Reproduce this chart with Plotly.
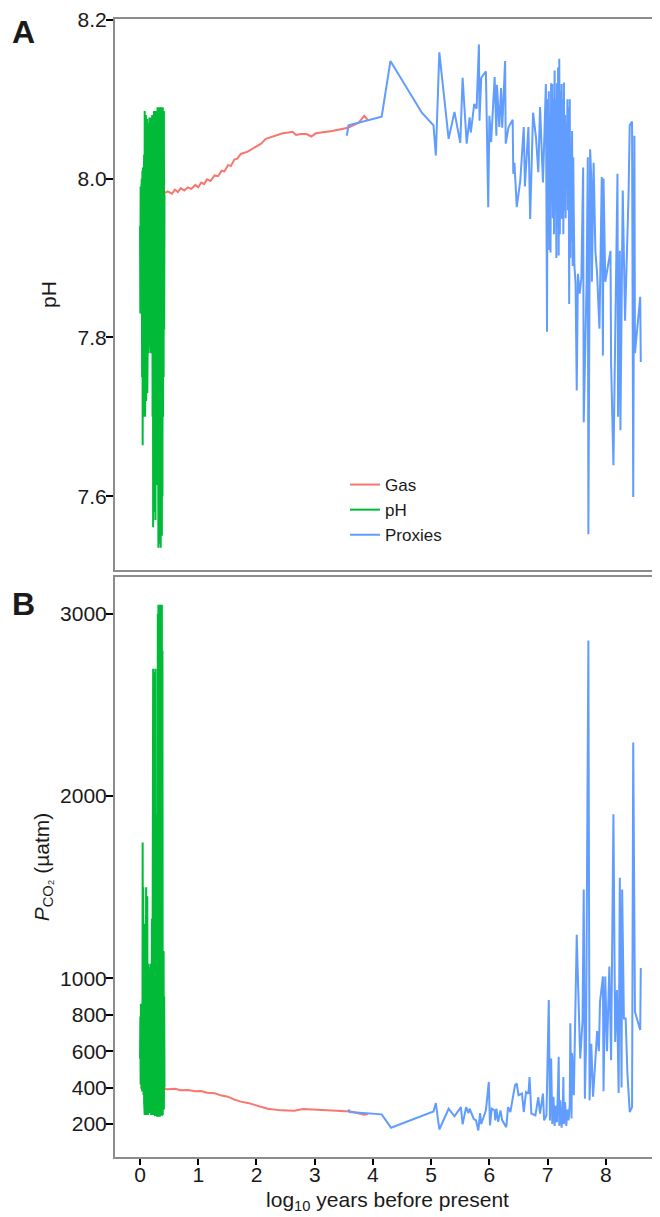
import plotly.graph_objects as go

# ---------------- data ----------------
# Gas (red)
gas_ph_x = [0.00, 0.10, 0.20, 0.30, 0.40, 0.475, 0.55, 0.60, 0.65, 0.70, 0.76, 0.82, 0.88, 0.95, 1.00,
            1.05, 1.10, 1.15, 1.21, 1.28, 1.34, 1.40, 1.45, 1.51, 1.56, 1.62, 1.67, 1.73, 1.85, 1.96, 2.08,
            2.16, 2.31, 2.45, 2.55, 2.62, 2.68, 2.76, 2.86, 2.94, 3.02, 3.30, 3.57, 3.75, 3.85, 3.91]
gas_ph = [7.979, 7.980, 7.978, 7.982, 7.981, 7.984, 7.981, 7.986, 7.983, 7.988, 7.985, 7.989, 7.987, 7.992,
          7.989, 7.995, 7.993, 7.999, 7.997, 8.004, 8.003, 8.010, 8.009, 8.017, 8.016, 8.024, 8.025, 8.031,
          8.034, 8.039, 8.044, 8.050, 8.054, 8.057, 8.058, 8.059, 8.055, 8.056, 8.056, 8.053, 8.057, 8.060,
          8.064, 8.070, 8.079, 8.074]
gas_co2_x = [0.00, 0.20, 0.475, 0.60, 0.70, 0.82, 0.95, 1.05, 1.15, 1.28, 1.40, 1.51, 1.62, 1.73, 1.85,
             1.96, 2.08, 2.19, 2.42, 2.65, 2.80, 2.94, 3.34, 3.62, 3.85, 3.91]
gas_co2 = [400, 398, 391, 394, 386, 387, 380, 381, 372, 369, 356, 350, 334, 323, 316, 306, 297, 284, 275,
           273, 282, 280, 275, 269, 251, 255]

# pH measurements (green)
ph_x = [0.000, 0.005, 0.010, 0.015, 0.020, 0.025, 0.030, 0.035, 0.040, 0.045, 0.050, 0.055, 0.060, 0.065,
        0.070, 0.075, 0.080, 0.085, 0.090, 0.095, 0.100, 0.105, 0.110, 0.115, 0.120, 0.125, 0.130, 0.135,
        0.140, 0.145, 0.150, 0.155, 0.160, 0.165, 0.170, 0.175, 0.180, 0.185, 0.190, 0.195, 0.200, 0.205,
        0.210, 0.215, 0.220, 0.225, 0.230, 0.235, 0.240, 0.245, 0.250, 0.255, 0.260, 0.265, 0.270, 0.275,
        0.280, 0.285, 0.290, 0.295, 0.300, 0.305, 0.310, 0.315, 0.320, 0.325, 0.330, 0.335, 0.340, 0.345,
        0.350, 0.355, 0.360, 0.365, 0.370, 0.375, 0.380, 0.385, 0.390, 0.395, 0.400, 0.405, 0.410, 0.415,
        0.420]
ph_ph = [7.94, 7.83, 7.99, 7.84, 7.98, 7.79, 8.00, 7.75, 8.01, 7.664, 8.014, 7.70, 7.95, 7.80,
         8.03, 7.72, 8.085, 7.70, 8.06, 7.75, 8.08, 7.72, 8.07, 7.80, 8.075, 7.73, 8.06, 7.82,
         8.07, 7.78, 8.05, 7.80, 8.077, 7.79, 8.06, 7.83, 8.07, 7.78, 8.077, 7.82, 8.07, 7.76,
         8.08, 7.70, 8.075, 7.561, 8.08, 7.62, 8.085, 7.58, 8.08, 7.66, 8.08, 7.57, 8.085, 7.64,
         8.08, 7.70, 8.085, 7.614, 8.09, 7.55, 8.085, 7.535, 8.09, 7.60, 8.085, 7.54, 8.09, 7.57,
         8.085, 7.535, 8.09, 7.62, 8.09, 7.55, 8.085, 7.60, 8.09, 7.70, 8.08, 7.75, 8.085, 7.81,
         7.98]
ph_co2 = [560, 790, 420, 860, 410, 700, 400, 1100, 380, 1745, 420, 1500, 360, 1000,
          320, 1200, 250, 1300, 260, 1000, 270, 1500, 250, 1100, 260, 1450, 280, 800,
          250, 1080, 280, 900, 260, 1060, 300, 1000, 270, 1080, 250, 950, 260, 1327,
          250, 1500, 270, 2700, 260, 2680, 250, 2600, 255, 2000, 245, 2700, 250, 1900,
          245, 1500, 250, 2200, 240, 3000, 250, 3050, 240, 2900, 245, 3050, 240, 3040,
          250, 3050, 245, 2500, 250, 3050, 245, 2800, 250, 1150, 260, 1150, 280, 900,
          400]

# Proxies (blue)
prox_ph_x = [3.55, 3.58, 4.15, 4.30, 4.84, 5.04, 5.08, 5.14, 5.30, 5.40, 5.50, 5.54, 5.61, 5.66, 5.68,
             5.74, 5.78, 5.82, 5.83, 5.86, 5.94, 5.96, 5.98, 6.00, 6.03, 6.09, 6.12, 6.13, 6.17, 6.20,
             6.22, 6.27, 6.28, 6.33, 6.40, 6.41, 6.43, 6.47, 6.53, 6.59, 6.61, 6.67, 6.70, 6.75, 6.80,
             6.84, 6.87, 6.92, 6.97, 6.99, 7.00, 7.01, 7.02, 7.03, 7.04, 7.05, 7.06, 7.07, 7.08, 7.09,
             7.10, 7.11, 7.12, 7.13, 7.14, 7.15, 7.16, 7.17, 7.18, 7.19, 7.20, 7.21, 7.22, 7.23, 7.24,
             7.25, 7.26, 7.27, 7.28, 7.29, 7.30, 7.31, 7.32, 7.33, 7.34, 7.35, 7.36, 7.37, 7.38, 7.39,
             7.40, 7.41, 7.42, 7.43, 7.44, 7.45, 7.46, 7.48, 7.50, 7.52, 7.55, 7.58, 7.61, 7.62, 7.67,
             7.69, 7.70, 7.73, 7.75, 7.76, 7.79, 7.82, 7.85, 7.89, 7.93, 7.95, 7.96, 7.99, 8.08, 8.09,
             8.13, 8.17, 8.20, 8.21, 8.24, 8.25, 8.29, 8.33, 8.39, 8.41, 8.45, 8.47, 8.49, 8.50, 8.59,
             8.60]
prox_ph = [8.054, 8.067, 8.078, 8.148, 8.083, 8.067, 8.029, 8.159, 8.050, 8.084, 8.045, 8.127, 8.044, 8.077, 8.058,
           8.094, 8.088, 8.169, 8.073, 8.127, 8.135, 8.058, 7.964, 8.079, 8.046, 8.128, 8.054, 8.118, 8.065, 8.114,
           8.064, 8.148, 8.044, 8.065, 8.074, 8.006, 8.020, 7.964, 7.997, 8.065, 7.990, 8.065, 7.949, 8.083, 8.052,
           8.008, 8.090, 7.995, 8.119, 7.807, 8.100, 7.950, 8.110, 7.910, 8.080, 7.907, 8.120, 7.970, 8.119, 7.950,
           8.100, 7.930, 8.136, 7.960, 8.100, 7.900, 8.120, 7.940, 8.140, 7.903, 8.151, 7.930, 8.110, 7.950, 8.119,
           7.949, 8.100, 7.930, 8.121, 7.960, 8.080, 7.950, 8.070, 8.000, 8.100, 7.960, 8.090, 7.842, 8.100, 7.900,
           8.040, 7.920, 8.060, 7.890, 8.027, 7.950, 7.890, 7.868, 7.733, 7.880, 7.855, 7.875, 8.014, 7.693, 7.870,
           8.027, 7.552, 8.037, 8.000, 7.870, 8.020, 7.909, 7.880, 7.811, 8.002, 7.777, 8.000, 7.870, 7.909, 7.768,
           7.639, 7.850, 8.006, 7.700, 7.909, 7.683, 7.985, 7.821, 7.980, 8.067, 8.072, 7.599, 8.054, 7.780, 7.851,
           7.769]

prox_co2_x = [3.58, 3.60, 4.15, 4.31, 5.04, 5.08, 5.14, 5.30, 5.40, 5.51, 5.54, 5.60, 5.64, 5.66, 5.73,
              5.77, 5.81, 5.84, 5.86, 5.94, 5.99, 6.01, 6.04, 6.09, 6.10, 6.12, 6.15, 6.19, 6.22, 6.29,
              6.32, 6.36, 6.41, 6.44, 6.47, 6.50, 6.56, 6.59, 6.63, 6.67, 6.69, 6.72, 6.79, 6.84, 6.87,
              6.92, 6.94, 6.98, 7.02, 7.04, 7.06, 7.08, 7.10, 7.12, 7.14, 7.16, 7.18, 7.19, 7.20, 7.22,
              7.24, 7.26, 7.27, 7.28, 7.30, 7.32, 7.34, 7.36, 7.38, 7.39, 7.41, 7.42, 7.45, 7.49, 7.50,
              7.53, 7.56, 7.60, 7.62, 7.64, 7.66, 7.70, 7.72, 7.75, 7.78, 7.82, 7.85, 7.88, 7.90, 7.95,
              7.96, 7.99, 8.02, 8.06, 8.09, 8.13, 8.16, 8.19, 8.22, 8.24, 8.27, 8.28, 8.31, 8.34, 8.37,
              8.41, 8.45, 8.47, 8.50, 8.59, 8.60]
prox_co2 = [280, 266, 253, 180, 269, 315, 170, 284, 242, 293, 198, 293, 260, 284, 229,
            220, 165, 260, 200, 275, 431, 192, 284, 275, 220, 284, 212, 275, 220, 183,
            293, 266, 358, 413, 422, 358, 367, 266, 376, 367, 458, 257, 248, 347, 257,
            367, 220, 248, 881, 220, 560, 200, 350, 190, 300, 210, 420, 569, 190, 330,
            180, 260, 458, 200, 320, 190, 280, 220, 310, 753, 230, 590, 358, 1157, 1239,
            890, 560, 770, 1487, 339, 640, 2855, 330, 640, 350, 550, 710, 600, 872, 1010,
            380, 1010, 600, 1064, 550, 1900, 650, 936, 370, 1552, 400, 1487, 780, 780, 480,
            266, 293, 2295, 816, 716, 1056]

x_ticks = [0, 1, 2, 3, 4, 5, 6, 7, 8]
ph_ticks = [7.6, 7.8, 8.0, 8.2]
ph_tick_text = ["7.6", "7.8", "8.0", "8.2"]
co2_ticks = [200, 400, 600, 800, 1000, 2000, 3000]

# ---------------- styling ----------------
RED = "#F8766D"
GREEN = "#00BA38"
BLUE = "#619CFF"
FONT = "Liberation Sans, Arial, Helvetica, sans-serif"
AXC = "#8c8c8c"
TXT = "#1a1a1a"
TS = 21  # tick / title font size

fig = go.Figure()
fig.add_trace(go.Scatter(x=gas_ph_x, y=gas_ph, mode="lines", line=dict(color=RED, width=2),
                         name="Gas", xaxis="x", yaxis="y"))
fig.add_trace(go.Scatter(x=ph_x, y=ph_ph, mode="lines", line=dict(color=GREEN, width=2),
                         name="pH", xaxis="x", yaxis="y"))
fig.add_trace(go.Scatter(x=prox_ph_x, y=prox_ph, mode="lines", line=dict(color=BLUE, width=2),
                         name="Proxies", xaxis="x", yaxis="y"))
fig.add_trace(go.Scatter(x=gas_co2_x, y=gas_co2, mode="lines", line=dict(color=RED, width=2),
                         name="Gas", showlegend=False, xaxis="x2", yaxis="y2"))
fig.add_trace(go.Scatter(x=ph_x, y=ph_co2, mode="lines", line=dict(color=GREEN, width=2),
                         name="pH", showlegend=False, xaxis="x2", yaxis="y2"))
fig.add_trace(go.Scatter(x=prox_co2_x, y=prox_co2, mode="lines", line=dict(color=BLUE, width=2),
                         name="Proxies", showlegend=False, xaxis="x2", yaxis="y2"))

# page has an 8px body margin: figure coordinates = page coordinates - 8
W, H = 652, 1209
ML, MT, MB = 107, 11, 60
plot_h = H - MT - MB          # 1138
plot_w = W - ML               # 545
a_bottom = (1157 - 570) / plot_h
b_top = (1157 - 577) / plot_h


def px(page_x):
    return (page_x - 115) / plot_w


def py(page_y):
    return (1157 - page_y) / plot_h


xr = [-0.43, 8.93]
common_x = dict(range=xr, showgrid=False, zeroline=False, showline=True, linecolor=AXC, linewidth=2,
                mirror=True, tickvals=x_ticks, ticks="outside", ticklen=6, tickwidth=1.5,
                tickcolor="black", tickfont=dict(family=FONT, size=TS, color=TXT),
                ticklabelstandoff=-8)

fig.update_layout(
    width=W, height=H,
    margin=dict(l=ML, r=0, t=MT, b=MB, autoexpand=False),
    paper_bgcolor="white", plot_bgcolor="white",
    font=dict(family=FONT, color=TXT),
    xaxis=dict(common_x, domain=[0, 1], anchor="y", showticklabels=False, ticks=""),
    yaxis=dict(domain=[a_bottom, 1], range=[7.507, 8.201], anchor="x", showgrid=False, zeroline=False,
               showline=True, linecolor=AXC, linewidth=2, tickvals=ph_ticks,
               ticktext=ph_tick_text, ticks="outside", ticklen=7, tickwidth=2,
               tickcolor="black", tickfont=dict(family=FONT, size=TS, color=TXT),
               ticklabelstandoff=-5, ticklabeloverflow="allow",
               title=dict(text="pH", font=dict(family=FONT, size=TS, color=TXT), standoff=15)),
    xaxis2=dict(common_x, domain=[0, 1], anchor="y2",
                title=dict(text="log<sub>10</sub> years before present",
                           font=dict(family=FONT, size=TS, color=TXT), standoff=7)),
    yaxis2=dict(domain=[0, b_top], range=[19, 3203], anchor="x2", showgrid=False, zeroline=False,
                showline=True, linecolor=AXC, linewidth=2, tickvals=co2_ticks, ticks="outside",
                ticklen=7, tickwidth=2, tickcolor="black",
                tickfont=dict(family=FONT, size=TS, color=TXT), ticklabelstandoff=-5,
                title=dict(text="<i>P</i><sub>CO₂</sub> (µatm)",
                           font=dict(family=FONT, size=TS, color=TXT), standoff=5)),
    legend=dict(x=px(345), y=py(467), xanchor="left", yanchor="top",
                bgcolor="rgba(0,0,0,0)", font=dict(family=FONT, size=17, color=TXT),
                tracegroupgap=0),
    showlegend=True,
)

fig.add_annotation(text="<b>A</b>", xref="paper", yref="paper", x=px(10), y=py(32),
                   xanchor="left", yanchor="middle", showarrow=False,
                   font=dict(family=FONT, size=32, color=TXT))
fig.add_annotation(text="<b>B</b>", xref="paper", yref="paper", x=px(10), y=py(604),
                   xanchor="left", yanchor="middle", showarrow=False,
                   font=dict(family=FONT, size=32, color=TXT))

fig.write_html("out.html")
